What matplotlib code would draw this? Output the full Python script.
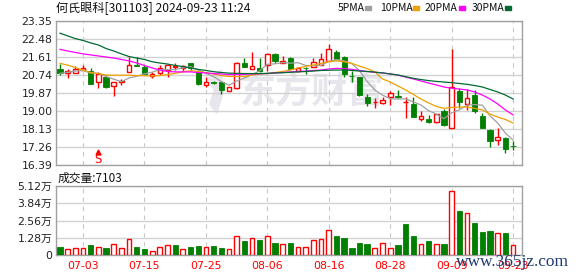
import numpy as np
import pandas as pd
import matplotlib
matplotlib.use('Agg')
import matplotlib.pyplot as plt
from matplotlib.patches import Rectangle, Polygon

# 何氏眼科 daily bars, 2024-06-28 .. 2024-09-23
opens = [21.03, 20.85, 20.82, 20.98, 20.93, 20.39, 20.66, 20.21, 20.39, 20.87,
         21.22, 21.14, 20.69, 20.85, 20.98, 21.14, 21.06, 21.31, 20.87, 20.26,
         20.39, 20.42, 19.98, 20.10, 21.31, 21.02, 21.06, 21.22, 21.75, 21.33,
         21.56, 20.95, 21.09, 21.14, 21.22, 21.43, 21.84, 21.60, 20.70, 20.66,
         19.70, 19.42, 19.37, 19.66, 19.72, 19.44, 19.32, 18.61, 18.61, 18.48,
         19.00, 18.16, 19.97, 19.32, 19.77, 18.76, 18.08, 17.60, 17.71, 17.32]
highs = [21.27, 21.02, 21.17, 21.22, 21.09, 20.90, 20.74, 20.42, 20.53, 21.60,
         21.60, 21.22, 20.87, 21.22, 21.22, 21.33, 21.22, 21.31, 20.95, 20.63,
         20.45, 20.42, 20.15, 21.38, 21.58, 21.87, 21.55, 21.79, 21.79, 21.66,
         21.61, 21.14, 21.13, 21.55, 21.82, 22.24, 21.95, 21.67, 20.93, 20.66,
         19.80, 19.61, 19.67, 19.95, 20.01, 19.69, 19.66, 18.99, 18.81, 18.85,
         19.08, 21.98, 20.10, 20.05, 20.01, 18.91, 18.11, 18.16, 17.76, 17.53]
lows = [20.74, 20.58, 20.82, 20.98, 20.30, 20.10, 20.13, 19.74, 20.26, 20.87,
        21.16, 20.77, 20.58, 20.74, 20.63, 20.98, 20.95, 20.98, 20.26, 20.17,
        20.30, 19.82, 19.98, 20.05, 21.13, 21.02, 20.90, 20.95, 21.32, 21.33,
        21.03, 20.87, 20.79, 21.14, 21.22, 21.43, 21.47, 20.66, 20.42, 19.72,
        19.24, 19.16, 19.34, 19.29, 19.61, 18.68, 18.69, 18.52, 18.40, 18.43,
        18.27, 18.16, 19.13, 19.05, 18.92, 18.19, 17.24, 17.36, 16.98, 17.11]
closes = [20.82, 20.93, 21.03, 21.06, 20.30, 20.77, 20.17, 20.39, 20.45, 21.22,
          21.16, 20.77, 20.78, 21.06, 21.22, 21.17, 21.19, 21.06, 20.30, 20.42,
          20.34, 20.02, 20.15, 21.31, 21.13, 21.17, 20.95, 21.74, 21.41, 21.43,
          21.03, 21.06, 21.08, 21.35, 21.50, 22.00, 21.50, 20.77, 20.68, 19.77,
          19.40, 19.44, 19.53, 19.86, 19.66, 19.45, 18.72, 18.76, 18.48, 18.85,
          18.32, 20.17, 19.45, 19.61, 19.00, 18.19, 17.56, 17.73, 17.16, 17.31]
volumes = [5700, 4200, 5400, 4950, 7200, 6200, 4950, 7900, 4950, 11600,
           5700, 4200, 2700, 5700, 7200, 7200, 4200, 5700, 6450, 5700,
           6450, 4950, 4200, 13900, 10400, 12850, 11100, 13900, 8900, 7900,
           8900, 5700, 5700, 11100, 11600, 18500, 14100, 12350, 5200, 8900,
           8150, 4950, 8650, 4950, 7200, 23000, 14100, 7900, 10400, 7900,
           8150, 47300, 32650, 30900, 24000, 17050, 17800, 16300, 16550, 7103]

ma10 = [21.30, 21.22, 21.10, 20.98, 20.86, 20.81, 20.74, 20.73, 20.73, 20.73,
        20.71, 20.71, 20.69, 20.71, 20.76, 20.82, 20.89, 20.95, 20.91, 20.85,
        20.79, 20.71, 20.67, 20.67, 20.67, 20.74, 20.79, 20.81, 20.86, 20.91,
        20.98, 21.08, 21.16, 21.22, 21.30, 21.39, 21.42, 21.38, 21.30, 21.17,
        21.05, 20.89, 20.55, 20.40, 20.21, 20.02, 19.80, 19.58, 19.39, 19.22,
        19.13, 19.17, 19.19, 19.19, 19.13, 19.05, 18.85, 18.71, 18.59, 18.42]
ma20 = [21.98, 21.90, 21.83, 21.76, 21.71, 21.66, 21.61, 21.56, 21.49, 21.42,
        21.32, 21.20, 21.08, 20.98, 20.91, 20.89, 20.89, 20.89, 20.86, 20.84,
        20.81, 20.79, 20.76, 20.76, 20.77, 20.79, 20.80, 20.81, 20.84, 20.86,
        20.89, 20.91, 20.93, 20.96, 20.98, 21.03, 21.06, 21.05, 21.01, 20.96,
        20.91, 20.87, 20.84, 20.79, 20.74, 20.64, 20.55, 20.45, 20.35, 20.26,
        20.16, 20.10, 20.06, 20.02, 19.92, 19.77, 19.58, 19.34, 19.05, 18.81]
ma30 = [22.76, 22.63, 22.50, 22.41, 22.29, 22.19, 22.02, 21.90, 21.76, 21.63,
        21.56, 21.49, 21.38, 21.32, 21.27, 21.20, 21.15, 21.08, 21.01, 20.96,
        20.90, 20.86, 20.83, 20.82, 20.81, 20.81, 20.81, 20.82, 20.84, 20.85,
        20.87, 20.89, 20.91, 20.93, 20.96, 20.97, 20.98, 20.98, 20.96, 20.93,
        20.91, 20.88, 20.84, 20.79, 20.74, 20.66, 20.58, 20.52, 20.47, 20.43,
        20.40, 20.37, 20.33, 20.29, 20.23, 20.16, 20.04, 19.92, 19.77, 19.58]

tick_pos = [3, 11, 19, 27, 35, 43, 51, 59]
tick_labels = ['07-03', '07-15', '07-25', '08-06', '08-16', '08-28', '09-09', '09-23']
price_ticks = [16.39, 17.26, 18.13, 19.00, 19.87, 20.74, 21.61, 22.48, 23.35]
vol_ticks = [0, 12800, 25600, 38400, 51200]
vol_labels = ['0', '1.28万', '2.56万', '3.84万', '5.12万']
signal_idx = 5   # the "S" marker under 07-05

RED = '#ff0000'
GREEN = '#008000'
GRID = '#d2d2d2'
CJK = ['Noto Sans CJK SC', 'DejaVu Sans']
NUM = ['DejaVu Sans', 'Noto Sans CJK SC']

df = pd.DataFrame({'open': opens, 'high': highs, 'low': lows,
                   'close': closes, 'vol': volumes})
df['ma5'] = df['close'].rolling(5, min_periods=1).mean()
df['ma10'] = ma10
df['ma20'] = ma20
df['ma30'] = ma30
x = np.arange(len(df))
up = (df['close'] >= df['open']).values
prev = df['close'].shift(1).fillna(df['open'].iloc[0])
vol_up = (df['close'] >= prev).values

W, H = 578, 276
fig = plt.figure(figsize=(W / 100, H / 100), dpi=100)
ax = fig.add_axes([56 / W, 1 - 165 / H, 466 / W, 144 / H])
axv = fig.add_axes([56 / W, 1 - 255 / H, 466 / W, 69 / H])

for a in (ax, axv):
    a.set_xlim(-0.52, 60.16)
    a.set_xticks(tick_pos)
    a.grid(axis='y', color=GRID, lw=1, zorder=0)
    a.grid(axis='x', color='#c8c8c8', lw=0.8, linestyle=(0, (4, 4)), zorder=0)
    a.set_axisbelow(True)
    for s in a.spines.values():
        s.set_color('#a0a0a0')
        s.set_linewidth(1)
    a.tick_params(length=0, labelsize=7.8, labelcolor='#222222', pad=2.5)

# price panel
ax.set_ylim(16.39, 23.35)
ax.set_yticks(price_ticks)
ax.set_yticklabels(['%.2f' % t for t in price_ticks])
ax.tick_params(axis='x', labelbottom=False)

# watermark
ax.text(0.55, 0.51, '东方财富', transform=ax.transAxes, fontsize=26,
        family=CJK, fontweight='bold', color='#e6e6ec', ha='center',
        va='center', zorder=0.5)
ax.add_patch(Polygon([(0.325, 0.60), (0.355, 0.66), (0.36, 0.52), (0.345, 0.36),
                      (0.33, 0.42), (0.34, 0.52)], closed=True,
                     transform=ax.transAxes, color='#e6e6ec', zorder=0.5))

top = df[['open', 'close']].max(axis=1)
bot = df[['open', 'close']].min(axis=1)
body = (top - bot).clip(lower=0.004)
wick_col = np.where(up, RED, GREEN)
ax.vlines(x, top, df['high'], colors=wick_col, lw=1, zorder=3)
ax.vlines(x, df['low'], bot, colors=wick_col, lw=1, zorder=3)
ax.bar(x[up], body[up], bottom=bot[up], width=0.6, facecolor='white',
       edgecolor=RED, lw=1, zorder=3)
ax.bar(x[~up], body[~up], bottom=bot[~up], width=0.68, color=GREEN,
       edgecolor=GREEN, lw=0.6, zorder=3)

ax.plot(x, df['ma5'], color='#a0a0a0', lw=0.9, zorder=4)
ax.plot(x, df['ma10'], color='#f0a000', lw=0.9, zorder=4)
ax.plot(x, df['ma20'], color='#ff00ff', lw=0.9, zorder=4)
ax.plot(x, df['ma30'], color='#006a32', lw=0.9, zorder=4)

ax.plot(signal_idx, 17.02, marker='^', ms=3.5, color=RED, zorder=5)
ax.text(signal_idx, 16.64, 'S', color=RED, fontsize=8.5, ha='center', va='center',
        family=['DejaVu Sans'], zorder=5)

# volume panel
axv.set_ylim(0, 51200)
axv.set_yticks(vol_ticks)
axv.set_yticklabels(vol_labels, family=NUM)
axv.set_xticklabels(tick_labels)
axv.tick_params(axis='x', labelcolor=RED, pad=4)
axv.bar(x[vol_up], df['vol'][vol_up], width=0.62, facecolor='white',
        edgecolor=RED, lw=1, zorder=3)
axv.bar(x[~vol_up], df['vol'][~vol_up], width=0.7, color=GREEN,
        edgecolor=GREEN, lw=0.6, zorder=3)

# header texts
fig.text(56 / W, 1 - 8 / H, '何氏眼科[301103] 2024-09-23 11:24', fontsize=8.7,
         family=CJK, color='#111111', va='center')
fig.text(58 / W, 1 - 178 / H, '成交量:%d' % volumes[-1], fontsize=8.5,
         family=CJK, color='#111111', va='center')

legend = [('5PMA', '#a0a0a0', 338, 365), ('10PMA', '#f0a000', 380, 413),
          ('20PMA', '#ff00ff', 425, 459), ('30PMA', '#006a32', 472, 505)]
for name, col, tx, sx in legend:
    fig.text(tx / W, 1 - 8 / H, name, fontsize=7.5, family=CJK,
             color='#111111', va='center')
    fig.patches.append(Rectangle((sx / W, 1 - 10 / H), 6 / W, 4 / H,
                                 transform=fig.transFigure, color=col))

fig.text(512 / W, 1 - 262 / H, 'www.365jz.com', fontsize=12.5,
         family=['Liberation Serif'], color='#1f3b73', ha='center',
         va='center', zorder=10)

fig.savefig('out.png', dpi=100)
